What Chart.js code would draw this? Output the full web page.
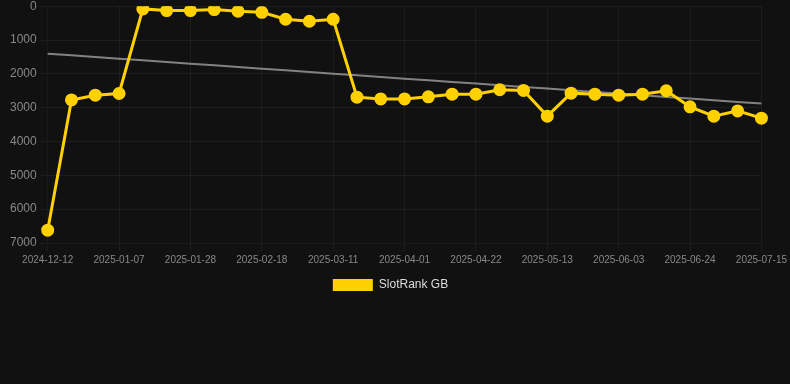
<!DOCTYPE html>
<html>
<head>
<meta charset="utf-8">
<script src="https://cdn.jsdelivr.net/npm/chart.js@4"></script>
<style>
  html, body { margin: 0; padding: 0; background: #111111; overflow: hidden; }
  #wrap { width: 790px; height: 305px; margin-top: -4px; }
</style>
</head>
<body>
<div id="wrap"><canvas id="c"></canvas></div>
<script>
const labels = [
  "2024-12-12","2024-12-24","2024-12-31","2025-01-07","2025-01-14","2025-01-21",
  "2025-01-28","2025-02-04","2025-02-11","2025-02-18","2025-02-25","2025-03-04",
  "2025-03-11","2025-03-18","2025-03-25","2025-04-01","2025-04-08","2025-04-15",
  "2025-04-22","2025-04-29","2025-05-06","2025-05-13","2025-05-20","2025-05-27",
  "2025-06-03","2025-06-10","2025-06-17","2025-06-24","2025-07-01","2025-07-08",
  "2025-07-15"
];
const rankGB = [
  6620, 2770, 2630, 2580, 80, 130,
  130, 100, 150, 180, 385, 445,
  385, 2690, 2740, 2740, 2680, 2600,
  2600, 2470, 2490, 3250, 2570, 2600,
  2630, 2600, 2500, 2975, 3250, 3095,
  3310
];
const yTicks = [0, 1000, 2000, 3000, 4000, 5000, 6000, 7000];

// least-squares trend line computed from the series
function trend(vals) {
  const n = vals.length;
  let sx = 0, sy = 0, sxy = 0, sxx = 0;
  vals.forEach((v, i) => { sx += i; sy += v; sxy += i * v; sxx += i * i; });
  const b = (n * sxy - sx * sy) / (n * sxx - sx * sx);
  const a = (sy - b * sx) / n;
  return vals.map((v, i) => a + b * i);
}
const trendGB = trend(rankGB);

const legendShift = {
  id: 'legendShift',
  afterLayout(chart) {
    if (chart.legend) { chart.legend.left -= 7; chart.legend.right -= 7; }
  }
};

new Chart(document.getElementById('c'), {
  type: 'line',
  data: {
    labels: labels,
    datasets: [
      {
        label: 'SlotRank GB',
        data: rankGB,
        borderColor: '#FFD100',
        backgroundColor: '#FFD100',
        borderWidth: 3,
        pointRadius: 5,
        pointHoverRadius: 5,
        pointBackgroundColor: '#FFD100',
        pointBorderColor: '#FFD100',
        tension: 0
      },
      {
        label: 'trend',
        data: trendGB,
        borderColor: 'rgba(150,150,150,0.85)',
        borderWidth: 2,
        pointRadius: 0,
        fill: false
      }
    ]
  },
  plugins: [legendShift],
  options: {
    responsive: true,
    maintainAspectRatio: false,
    animation: false,
    layout: { padding: { top: 0, right: 2, bottom: 0, left: 7 } },
    plugins: {
      legend: {
        position: 'bottom',
        labels: {
          color: '#dddddd',
          font: { family: 'Liberation Sans, Arial, sans-serif', size: 12 },
          boxWidth: 40,
          boxHeight: 12,
          generateLabels: (chart) =>
            Chart.defaults.plugins.legend.labels.generateLabels(chart)
              .filter(item => item.text !== 'trend')
              .map(item => Object.assign(item, { lineWidth: 0 }))
        }
      },
      tooltip: { enabled: false }
    },
    scales: {
      x: {
        grid: { color: 'rgba(255,255,255,0.05)' },
        ticks: {
          color: '#888888',
          padding: 3,
          font: { family: 'Liberation Sans, Arial, sans-serif', size: 10 },
          maxRotation: 0,
          autoSkip: false,
          callback: function(value, index) { return index % 3 === 0 ? labels[index] : null; }
        }
      },
      y: {
        reverse: true,
        min: 0,
        max: 7000,
        grid: { color: 'rgba(255,255,255,0.05)' },
        afterBuildTicks: (axis) => { axis.ticks = yTicks.map(v => ({ value: v })); },
        ticks: {
          color: '#888888',
          font: { family: 'Liberation Sans, Arial, sans-serif', size: 12 },
          callback: (v) => String(v)
        }
      }
    }
  }
});
</script>
</body>
</html>
